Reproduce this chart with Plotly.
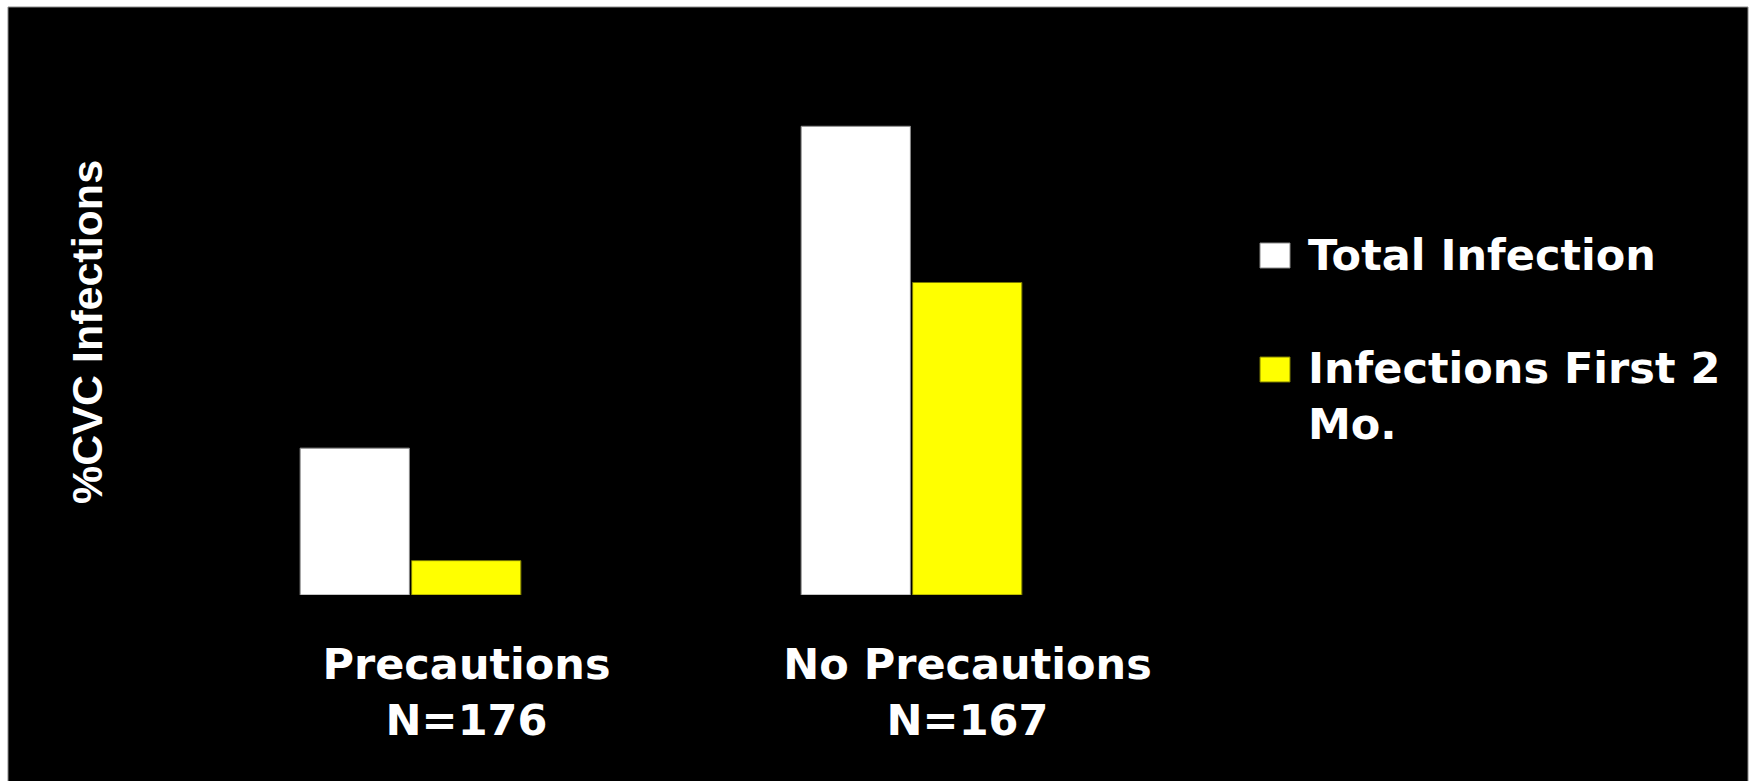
import plotly.graph_objects as go

# ---- data ----
categories = ["Precautions<br>N=176", "No Precautions<br>N=167"]
series_names = ["Total Infection", "Infections First 2<br>Mo."]
total_infection = [4.7, 15.0]
first_two_months = [1.1, 10.0]
series_colors = ["#ffffff", "#ffff00"]
series_edges = ["#8a8a8a", "#7a7a00"]

W, H = 1752, 781
L, R = 160, 1162          # plot area in px
T, B = 95, 595

def px_x(p):
    return (p - L) / (R - L)

def px_y(p):
    return (B - p) / (B - T)

fig = go.Figure()
for name, vals, col, edge in zip(series_names, [total_infection, first_two_months],
                                 series_colors, series_edges):
    fig.add_trace(go.Bar(
        x=categories, y=vals, name=name.replace("<br>", " "),
        marker=dict(color=col, line=dict(color=edge, width=1)),
        showlegend=False, hoverinfo="skip",
    ))

shapes = [
    # black slide background
    dict(type="rect", xref="paper", yref="paper", layer="below",
         x0=px_x(8), x1=px_x(1748), y0=px_y(800), y1=px_y(7),
         fillcolor="#000000", line=dict(color="#8a8a8a", width=1)),
]
annotations = [
    dict(text="%CVC Infections", textangle=-90, xref="paper", yref="paper",
         x=px_x(87), y=px_y(332), xanchor="center", yanchor="middle",
         showarrow=False,
         font=dict(family="Liberation Sans", size=43, color="#ffffff", weight="bold")),
]
# manual legend
legend_rows = [(243, 268, 255), (357, 382, 396)]
for (y0, y1, ytext), name, col, edge in zip(legend_rows, series_names, series_colors, series_edges):
    shapes.append(dict(type="rect", xref="paper", yref="paper",
                       x0=px_x(1260), x1=px_x(1290), y0=px_y(y1), y1=px_y(y0),
                       fillcolor=col, line=dict(color=edge, width=1)))
    annotations.append(dict(text=name, xref="paper", yref="paper",
                            x=px_x(1306), y=px_y(ytext), xanchor="left", yanchor="middle",
                            align="left", showarrow=False,
                            font=dict(family="DejaVu Sans", size=43, color="#ffffff",
                                      weight="bold")))

fig.update_layout(
    width=W, height=H,
    margin=dict(l=L, r=W - R, t=T, b=H - B, pad=0),
    paper_bgcolor="#ffffff", plot_bgcolor="rgba(0,0,0,0)",
    barmode="group", bargap=0.555, bargroupgap=0.02,
    showlegend=False,
    shapes=shapes, annotations=annotations,
    xaxis=dict(range=[-0.5, 1.5], showgrid=False, zeroline=False, showline=False,
               ticks="", ticklabelstandoff=40, ticklabelshift=56,
               tickfont=dict(family="DejaVu Sans", size=43, color="#ffffff", weight="bold")),
    yaxis=dict(range=[0, 16], showgrid=False, zeroline=False, showline=False,
               showticklabels=False, ticks=""),
)

fig.write_html("out.html")
